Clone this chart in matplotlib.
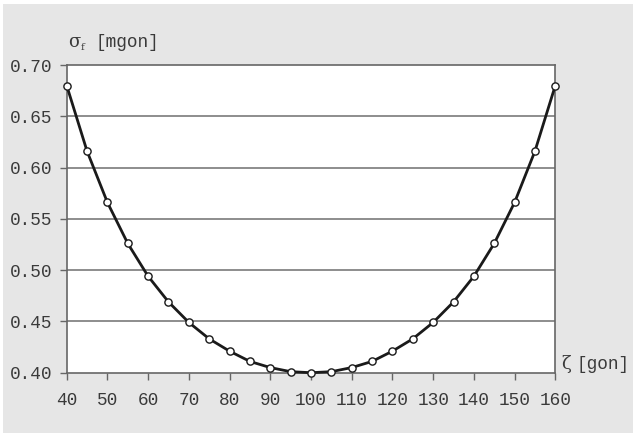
import matplotlib
matplotlib.use("Agg")
import matplotlib.pyplot as plt
from matplotlib.patches import Rectangle

zeta = [40, 45, 50, 55, 60, 65, 70, 75, 80, 85, 90, 95, 100,
        105, 110, 115, 120, 125, 130, 135, 140, 145, 150, 155, 160]
sigma = [0.680, 0.616, 0.566, 0.526, 0.494, 0.469, 0.449, 0.433, 0.421, 0.411, 0.405, 0.401, 0.400,
         0.401, 0.405, 0.411, 0.421, 0.433, 0.449, 0.469, 0.494, 0.526, 0.566, 0.616, 0.680]
xticks = [40, 50, 60, 70, 80, 90, 100, 110, 120, 130, 140, 150, 160]
yticks = [0.40, 0.45, 0.50, 0.55, 0.60, 0.65, 0.70]

W, H = 633, 434
fig = plt.figure(figsize=(W / 100, H / 100), dpi=100)
fig.patch.set_facecolor("white")
fig.patches.append(Rectangle((3 / W, 1 / H), 630 / W, 429 / H, transform=fig.transFigure,
                             facecolor="#e6e6e6", edgecolor="none", zorder=-5))

ax = fig.add_axes([66.7 / W, 1 - 372.7 / H, (555.3 - 66.7) / W, (372.7 - 65) / H])
ax.set_zorder(2)
ax.set_facecolor("white")
ax.set_xlim(40, 160)
ax.set_ylim(0.40, 0.70)

for y in yticks[1:-1]:
    ax.axhline(y, color="#7a7a7a", lw=1.2, zorder=1)

ax.plot(zeta, sigma, color="#1a1a1a", lw=2.0, marker="o", markersize=5.2,
        markerfacecolor="white", markeredgecolor="#1a1a1a", markeredgewidth=1.0,
        zorder=3, clip_on=False)

font = "Liberation Mono"
tc = "#3a3a3a"
ax.set_xticks(xticks)
ax.set_xticklabels([str(v) for v in xticks], fontfamily=font, fontsize=12.8, color=tc)
ax.set_yticks(yticks)
ax.set_yticklabels([f"{v:.2f}" for v in yticks], fontfamily=font, fontsize=12.8, color=tc)
ax.tick_params(axis="both", direction="out", length=5, width=1.0, color="#666666")
ax.tick_params(axis="x", pad=9)
ax.tick_params(axis="y", pad=5)

for s in ax.spines.values():
    s.set_color("#666666")
    s.set_linewidth(1.2)

fig.text(68 / W, 1 - 47 / H, "σ", fontfamily="DejaVu Serif", fontsize=13, color=tc,
         va="baseline", ha="left")
fig.text(81 / W, 1 - 49.5 / H, "f", fontfamily="DejaVu Serif", fontsize=7.5, color=tc,
         va="baseline", ha="left")
fig.text(95 / W, 1 - 47 / H, "[mgon]", fontfamily=font, fontsize=12.8, color=tc,
         va="baseline", ha="left")
fig.text(561 / W, 1 - 369 / H, "ζ", fontfamily="DejaVu Serif", fontsize=13, color=tc,
         va="baseline", ha="left")
fig.text(576 / W, 1 - 369 / H, "[gon]", fontfamily=font, fontsize=12.8, color=tc,
         va="baseline", ha="left")

fig.savefig("out.png", dpi=100)
